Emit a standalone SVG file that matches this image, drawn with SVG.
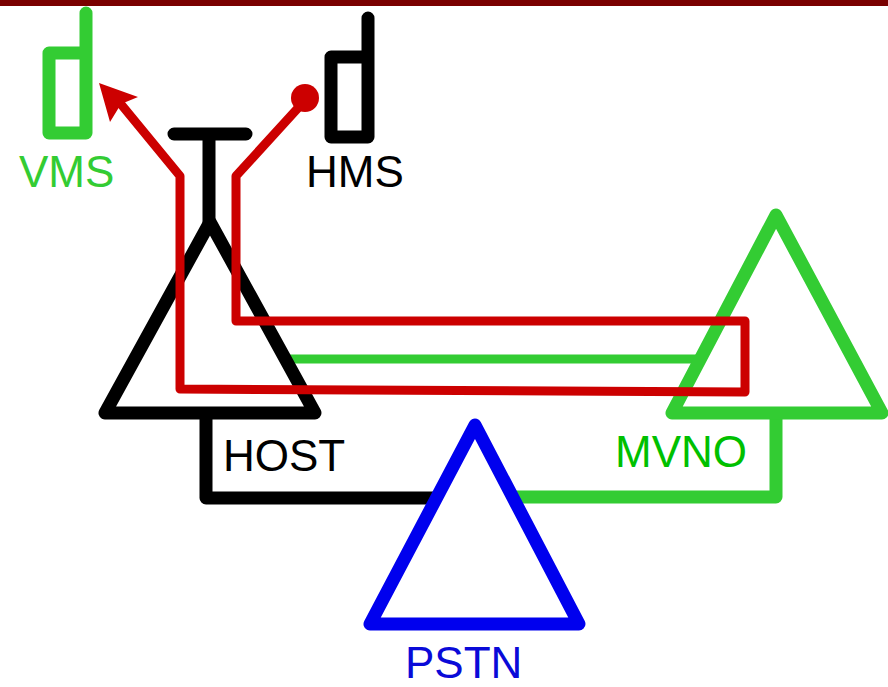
<svg xmlns="http://www.w3.org/2000/svg" width="888" height="687" viewBox="0 0 888 687">
<style>
.s{fill:none;stroke-linejoin:round;stroke-linecap:round;stroke-width:13}
.k{stroke:#000}.g{stroke:#33cc33}.b{stroke:#0000ee}.r{stroke:#cc0000;stroke-width:9;stroke-linecap:butt}
text{font-family:"Liberation Sans",Arial,sans-serif;font-size:44px}
</style>
<rect width="888" height="6" fill="#7a0000"/>
<g id="connectors">
<path class="s k" style="stroke-linecap:butt" d="M206 413V498H437"/>
<path class="s g" style="stroke-linecap:butt" d="M776 413V497H513"/>
<path class="s g" style="stroke-width:9;stroke-linecap:butt" d="M285 359H700"/>
</g>
<g id="host"><path class="s k" d="M210 222L105 413H315Z"/><path class="s k" d="M174 134H246M209 134V222"/><text x="223" y="471" fill="#000">HOST</text></g>
<g id="mvno"><path class="s g" d="M776 215L672 413H882Z"/><text x="615" y="467" fill="#00c000">MVNO</text></g>
<g id="pstn"><path class="s b" d="M475 425L370 624H579Z"/><text x="405" y="678" fill="#0a0ad8">PSTN</text></g>
<g id="vms"><path class="s g" d="M86 13V53H49V133H86V53"/><text x="19" y="187" fill="#33cc33">VMS</text></g>
<g id="hms"><path class="s k" d="M368 18V57H331V137H368V57"/><text x="306" y="187" fill="#000">HMS</text></g>
<g id="tunnel">
<path class="s r" d="M120 103L180 176V389L745 392V321H236V176L298 108"/>
<path d="M99 83L138 97L121 104L110 122Z" fill="#cc0000"/>
<circle cx="305" cy="98" r="14" fill="#cc0000"/>
</g>
</svg>
